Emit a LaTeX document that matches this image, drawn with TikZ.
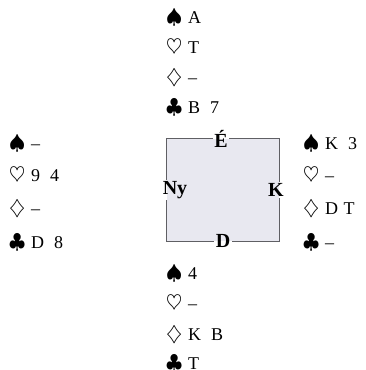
\documentclass[tikz,border=0pt]{standalone}
\usepackage{fontspec}
\setmainfont{Liberation Serif}
\newcommand\suitbox[1]{\makebox[22pt][l]{\fontsize{22}{22}\selectfont$#1$}}
\newcommand\sS{\suitbox{\spadesuit}}
\newcommand\sH{\suitbox{\heartsuit}}
\newcommand\sD{\suitbox{\diamondsuit}}
\newcommand\sC{\suitbox{\clubsuit}}
\newcommand\gap{\hspace{0.55em}}
\definecolor{tablefill}{RGB}{232,232,240}
\definecolor{tableline}{RGB}{95,95,100}
\begin{document}
\begin{tikzpicture}[x=1pt,y=-1pt,
  hand/.style={anchor=base west, inner sep=0pt, font=\fontsize{18}{20}\selectfont},
  seat/.style={font=\fontsize{20}{21}\selectfont\bfseries, inner sep=1.5pt},
  edge/.style={draw=tableline, line width=1.1pt}]
\useasboundingbox (0,0) rectangle (366,370);
% table
\node[fill=tablefill, minimum width=112pt, minimum height=102pt, inner sep=0pt] (table) at (223,190) {};
\node[seat] (E) at (221,139) {É};
\node[seat] (Ny) at (175,190) {Ny};
\node[seat] (K) at (276,190) {K};
\node[seat] (D) at (223,241) {D};
\draw[edge] (E.west |- table.north) -- (table.north west) -- (table.north west |- Ny.north);
\draw[edge] (table.north west |- Ny.south) -- (table.south west) -- (D.west |- table.south);
\draw[edge] (E.east |- table.north) -- (table.north east) -- (table.north east |- K.north);
\draw[edge] (table.north east |- K.south) -- (table.south east) -- (D.east |- table.south);
% North
\node[hand] (n1) at (166,23) {\sS A};
\node[hand] (n2) at (166,53) {\sH T};
\node[hand] (n3) at (166,83) {\sD --};
\node[hand] (n4) at (166,113) {\sC B\gap 7};
% West
\node[hand] (w1) at (9,149) {\sS --};
\node[hand] (w2) at (9,181) {\sH 9\gap 4};
\node[hand] (w3) at (9,214) {\sD --};
\node[hand] (w4) at (9,248) {\sC D\gap 8};
% East
\node[hand] (e1) at (303,149) {\sS K\gap 3};
\node[hand] (e2) at (303,181) {\sH --};
\node[hand] (e3) at (303,214) {\sD D\hspace{0.3em}T};
\node[hand] (e4) at (303,248) {\sC --};
% South
\node[hand] (s1) at (166,279) {\sS 4};
\node[hand] (s2) at (166,309) {\sH --};
\node[hand] (s3) at (166,340) {\sD K\gap B};
\node[hand] (s4) at (166,369) {\sC T};
\end{tikzpicture}
\end{document}
